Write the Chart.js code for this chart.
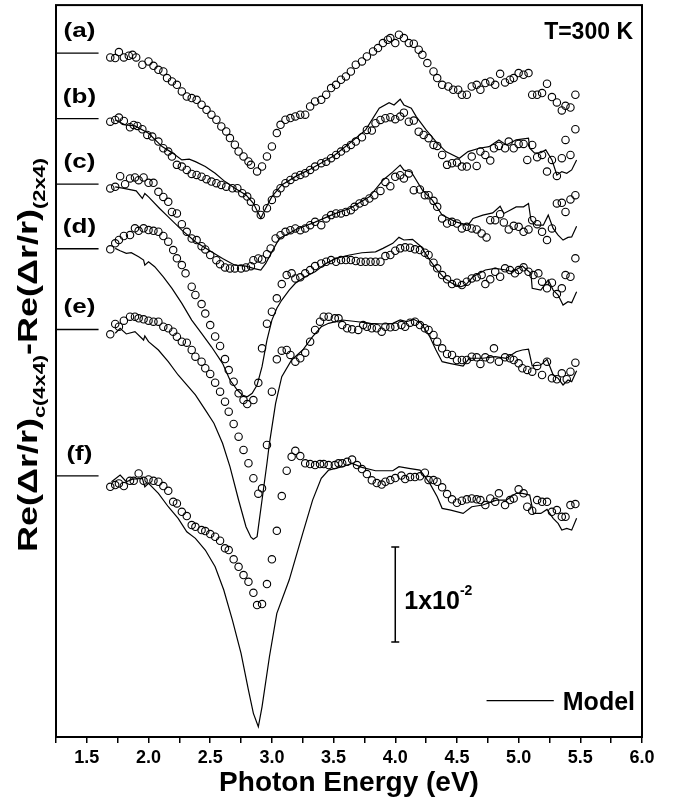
<!DOCTYPE html>
<html><head><meta charset="utf-8">
<script src="https://cdn.jsdelivr.net/npm/chart.js@4.4.0/dist/chart.umd.min.js"></script>
<style>html,body{margin:0;padding:0;background:#fff;}canvas{display:block;}</style>
</head><body>
<canvas id="c" width="674" height="802" style="width:674px;height:802px"></canvas>
<script>
// ---- DATA (values in units of 1e-3, relative to each curve's own zero line) ----
const curveNames = ['(a)','(b)','(c)','(d)','(e)','(f)'];
const offsets = [72.0, 65.1, 58.2, 51.4, 42.9, 27.5]; // vertical shift of each curve (1e-3 units)
const xTicks = [1.25,1.5,1.75,2.0,2.25,2.5,2.75,3.0,3.25,3.5,3.75,4.0,4.25,4.5,4.75,5.0,5.25,5.5,5.75,6.0];
const scaleBar = [10, 20]; // 1x10^-2 bar, at E = 4.0

const aE = [1.69,1.73,1.76,1.80,1.84,1.87,1.90,1.95,2.00,2.04,2.08,2.12,2.15,2.19,2.23,2.27,2.31,2.35,2.39,2.43,2.47,2.51,2.55,2.59,2.63,2.66,2.70,2.73,2.77,2.81,2.83,2.88,2.92,2.96,3.00,3.04,3.07,3.11,3.15,3.19,3.23,3.27,3.31,3.35,3.40,3.44,3.48,3.52,3.56,3.60,3.64,3.68,3.73,3.77,3.82,3.86,3.90,3.94,3.96,4.00,4.03,4.07,4.11,4.15,4.19,4.22,4.26,4.31,4.34,4.38,4.43,4.47,4.51,4.54,4.58,4.62,4.66,4.69,4.73,4.77,4.81,4.85,4.89,4.93,4.96,5.00,5.04,5.08,5.11,5.15,5.19,5.23,5.27,5.31,5.35,5.38,5.42,5.46];
const aV = [-0.46,-0.53,0.11,-0.46,-0.28,-0.18,-0.46,-1.23,-0.88,-1.34,-1.76,-1.94,-2.63,-2.99,-3.34,-4.04,-4.57,-4.74,-4.92,-5.44,-5.97,-6.49,-7.02,-7.73,-8.25,-8.95,-9.65,-10.36,-10.88,-11.41,-11.76,-12.46,-11.94,-10.88,-9.83,-8.42,-7.55,-7.02,-6.84,-6.67,-6.49,-6.49,-5.62,-5.09,-4.92,-4.39,-3.68,-3.34,-2.81,-2.46,-1.94,-1.23,-0.88,-0.36,0.17,0.53,1.05,1.40,1.58,1.05,1.93,1.58,1.05,0.98,0.35,-0.18,-1.05,-1.94,-2.63,-3.34,-3.52,-3.86,-3.86,-4.39,-4.39,-3.52,-3.34,-3.86,-3.16,-2.99,-3.34,-2.18,-3.09,-2.81,-2.63,-2.11,-2.28,-2.11,-4.39,-4.39,-4.21,-3.23,-4.63,-5.2,-6.04,-5.55,-5.73,-4.39];

const bE = [1.69,1.73,1.76,1.80,1.85,1.88,1.91,1.95,1.99,2.03,2.08,2.12,2.16,2.19,2.23,2.27,2.31,2.35,2.39,2.43,2.47,2.51,2.55,2.59,2.63,2.68,2.72,2.76,2.80,2.83,2.87,2.91,2.96,3.00,3.04,3.07,3.11,3.15,3.19,3.23,3.27,3.31,3.35,3.40,3.44,3.48,3.52,3.56,3.60,3.64,3.68,3.73,3.77,3.81,3.84,3.88,3.92,3.96,4.00,4.04,4.07,4.11,4.15,4.19,4.23,4.27,4.31,4.34,4.38,4.42,4.46,4.50,4.54,4.58,4.62,4.66,4.69,4.73,4.77,4.80,4.84,4.89,4.92,4.96,5.00,5.04,5.07,5.11,5.15,5.19,5.23,5.27,5.31,5.35,5.38,5.42,5.46];
const bV = [-0.32,-0.14,0.11,-0.24,-0.91,-0.66,-0.77,-1.12,-1.72,-1.89,-2.42,-3.12,-3.47,-4.0,-4.87,-5.05,-5.4,-5.82,-5.93,-6.11,-6.38,-6.63,-6.8,-6.98,-7.16,-7.33,-7.33,-7.85,-8.21,-8.74,-9.43,-10.14,-9.43,-8.56,-7.85,-7.33,-6.8,-6.45,-6.11,-5.93,-5.75,-5.4,-5.05,-4.69,-4.53,-4.17,-3.82,-3.47,-3.12,-2.77,-2.42,-1.96,-1.19,-1.26,-0.48,-0.14,0.04,0.15,-0.06,0.21,0.63,-0.32,-0.21,-1.37,-1.72,-2.06,-2.77,-2.87,-3.82,-4.87,-4.69,-4.63,-5.05,-5.05,-4.0,-4.98,-3.47,-3.82,-4.42,-3.12,-2.87,-3.12,-2.42,-3.12,-2.66,-2.66,-4.35,-2.77,-4.06,-3.82,-5.58,-4.35,-6.03,-4.17,-2.24,-3.82,-1.12];
const bModelE = [1.73,1.81,1.89,2.00,2.11,2.19,2.27,2.33,2.38,2.46,2.54,2.62,2.70,2.79,2.85,2.91,2.95,3.00,3.08,3.20,3.30,3.40,3.50,3.63,3.76,3.87,3.95,3.99,4.04,4.07,4.13,4.17,4.25,4.33,4.41,4.52,4.59,4.68,4.76,4.84,4.90,4.98,5.08,5.09,5.13,5.18,5.22,5.27,5.31,5.35,5.39,5.43,5.47];
const bModelV = [-0.14,-0.66,-0.77,-1.54,-2.95,-3.58,-4.35,-4.27,-4.53,-5.05,-5.75,-6.63,-7.33,-8.03,-8.91,-10.48,-9.43,-8.21,-6.98,-6.03,-5.4,-4.67,-3.93,-2.59,-1.19,1.09,1.68,1.44,2.04,1.44,1.09,0.21,-1.19,-2.42,-3.47,-4.17,-3.47,-3.12,-2.95,-2.24,-2.77,-2.24,-2.06,-3.12,-3.64,-3.58,-3.29,-4.35,-5.93,-5.58,-5.75,-5.4,-4.35];

const cE = [1.69,1.73,1.77,1.81,1.85,1.89,1.92,1.96,2.00,2.04,2.08,2.12,2.16,2.19,2.23,2.27,2.31,2.35,2.39,2.43,2.46,2.50,2.55,2.58,2.62,2.66,2.70,2.75,2.79,2.83,2.85,2.89,2.92,2.96,2.99,3.03,3.07,3.11,3.15,3.19,3.23,3.27,3.31,3.35,3.40,3.44,3.48,3.52,3.56,3.60,3.64,3.67,3.71,3.75,3.79,3.83,3.88,3.92,3.96,4.00,4.04,4.07,4.11,4.15,4.20,4.24,4.27,4.31,4.34,4.38,4.42,4.46,4.50,4.54,4.58,4.62,4.66,4.70,4.74,4.77,4.81,4.85,4.88,4.92,4.96,5.00,5.04,5.08,5.11,5.15,5.19,5.23,5.27,5.31,5.35,5.38,5.42,5.46];
const cV = [-0.45,-0.28,0.84,0,0.6,0.71,0.42,0.71,0.14,0.14,-0.81,-1.34,-1.86,-2.92,-3.08,-4.21,-5.02,-5.72,-5.89,-6.53,-6.87,-7.47,-8.0,-8.42,-8.77,-8.87,-8.87,-8.87,-8.77,-8.63,-8.0,-7.82,-7.93,-7.37,-6.77,-5.72,-5.37,-5.02,-4.84,-4.66,-4.84,-4.66,-4.32,-3.97,-4.32,-3.61,-3.26,-3.08,-3.08,-2.92,-2.74,-2.39,-2.03,-1.86,-1.51,-1.16,-0.71,0.24,-0.21,0.77,0.95,0.6,1.13,-0.63,-0.56,-1.16,-1.16,-1.76,-2.39,-3.61,-4.14,-3.97,-4.14,-4.66,-4.49,-4.66,-4.77,-5.19,-5.61,-3.79,-3.79,-3.16,-4.03,-4.77,-4.39,-4.49,-5.02,-4.77,-3.79,-4.21,-5.02,-5.89,-4.66,-2.03,-1.97,-2.92,-1.61,-1.16];
const cModelE = [1.73,1.79,1.83,1.90,1.95,1.97,2.00,2.09,2.16,2.27,2.38,2.49,2.60,2.70,2.79,2.85,2.91,2.95,3.00,3.06,3.20,3.35,3.50,3.63,3.79,3.90,3.98,4.04,4.07,4.13,4.22,4.30,4.38,4.49,4.59,4.63,4.71,4.79,4.85,4.88,4.93,4.98,5.04,5.08,5.10,5.14,5.20,5.24,5.28,5.32,5.36,5.40,5.43,5.47];
const cModelV = [-0.28,-0.42,-0.53,-0.71,-1.51,-0.98,-1.34,-2.56,-3.44,-4.84,-6.07,-6.95,-7.82,-8.53,-8.63,-8.87,-9.05,-8.35,-7.13,-5.72,-4.74,-4.0,-3.16,-2.56,-1.34,0.42,1.29,2.0,1.47,1.29,-0.63,-1.68,-3.26,-3.97,-4.32,-3.61,-3.26,-3.02,-2.32,-3.08,-2.74,-2.39,-2.39,-2.03,-3.79,-4.32,-4.32,-3.26,-4.66,-5.37,-5.89,-5.61,-5.55,-4.42];

const dE = [1.69,1.73,1.76,1.80,1.85,1.89,1.92,1.96,2.00,2.04,2.08,2.12,2.16,2.20,2.23,2.27,2.30,2.35,2.38,2.43,2.46,2.50,2.54,2.58,2.62,2.65,2.69,2.73,2.77,2.80,2.85,2.89,2.92,2.96,3.00,3.04,3.08,3.12,3.16,3.19,3.23,3.27,3.31,3.35,3.40,3.44,3.48,3.52,3.56,3.60,3.64,3.68,3.72,3.76,3.80,3.84,3.88,3.92,3.96,4.00,4.04,4.08,4.12,4.16,4.20,4.24,4.27,4.31,4.34,4.38,4.42,4.46,4.50,4.54,4.58,4.62,4.66,4.70,4.73,4.77,4.81,4.85,4.89,4.93,4.97,5.00,5.04,5.08,5.12,5.16,5.19,5.23,5.27,5.31,5.35,5.38,5.42,5.46];
const dV = [-0.06,0.57,0.92,1.34,1.44,2.15,1.89,2.15,1.97,1.89,1.79,1.34,0.74,-0.14,-1.01,-1.72,-2.59,-4.0,-4.87,-5.82,-6.82,-8.03,-9.24,-10.24,-11.61,-12.77,-14.0,-15.22,-15.93,-16.35,-15.93,-14.11,-10.48,-7.89,-6.63,-5.22,-3.72,-2.77,-2.59,-3.12,-3.01,-2.59,-2.24,-1.82,-1.54,-1.37,-1.19,-1.37,-1.19,-1.19,-1.19,-1.29,-1.37,-1.37,-1.37,-1.37,-1.37,-0.77,-0.66,-0.21,0.04,0.15,0.11,-0.06,-0.14,-0.42,-0.66,-1.47,-2.06,-2.77,-3.22,-3.72,-3.58,-3.82,-3.47,-3.12,-3.01,-2.77,-3.72,-3.22,-2.42,-2.95,-2.06,-2.24,-2.59,-2.24,-1.96,-2.42,-2.77,-2.59,-3.47,-4.17,-3.58,-4.77,-4.17,-2.77,-2.95,-1.01];
const dModelE = [1.73,1.77,1.82,1.86,1.92,1.96,1.97,2.00,2.05,2.12,2.19,2.27,2.35,2.43,2.51,2.60,2.66,2.72,2.76,2.80,2.84,2.88,2.92,2.96,3.00,3.04,3.08,3.14,3.19,3.27,3.35,3.44,3.52,3.63,3.73,3.84,3.90,3.98,4.03,4.07,4.14,4.21,4.28,4.34,4.40,4.46,4.53,4.57,4.63,4.73,4.81,4.90,4.95,5.03,5.10,5.11,5.18,5.24,5.28,5.32,5.36,5.40,5.43,5.47];
const dModelV = [0.04,-0.21,-0.48,-0.42,-0.84,-1.19,-1.72,-1.37,-1.89,-2.95,-4.17,-5.75,-7.51,-8.91,-10.32,-12.06,-13.82,-14.87,-15.4,-15.58,-15.22,-14.35,-12.42,-9.61,-7.51,-6.27,-5.4,-4.35,-3.64,-2.95,-2.42,-1.54,-1.01,-0.66,-0.42,-0.32,0.04,0.57,1.2,0.92,0.99,0.21,-1.19,-2.24,-3.12,-3.64,-4.0,-3.82,-2.95,-2.24,-2.06,-2.24,-2.42,-1.82,-2.59,-4.17,-4.35,-3.29,-4.35,-4.87,-5.93,-5.58,-5.68,-4.53];

const eE = [1.69,1.73,1.76,1.80,1.85,1.89,1.92,1.96,2.00,2.04,2.08,2.12,2.16,2.20,2.23,2.27,2.31,2.35,2.38,2.43,2.46,2.50,2.54,2.58,2.62,2.65,2.69,2.73,2.77,2.81,2.85,2.89,2.92,2.96,3.00,3.04,3.08,3.12,3.15,3.19,3.23,3.27,3.31,3.35,3.39,3.42,3.46,3.51,3.54,3.57,3.61,3.65,3.70,3.74,3.77,3.81,3.85,3.89,3.92,3.96,4.00,4.05,4.08,4.12,4.16,4.20,4.24,4.27,4.31,4.34,4.38,4.42,4.46,4.50,4.54,4.58,4.62,4.66,4.69,4.73,4.77,4.80,4.84,4.89,4.93,4.96,5.00,5.03,5.07,5.11,5.15,5.19,5.23,5.27,5.31,5.35,5.39,5.42,5.46];
const eV = [-0.51,0.58,0.29,0.93,1.35,1.35,1.18,1.07,0.93,0.82,0.82,0.29,0.13,-0.23,-0.76,-1.28,-1.39,-2.16,-2.86,-3.39,-4.08,-4.68,-5.6,-6.55,-7.6,-8.65,-9.95,-11.28,-12.68,-14.08,-15.66,-17.28,-16.72,-12.16,-6.55,-3.14,-2.23,-2.16,-2.68,-3.39,-3.03,-2.44,-1.28,-0.05,0.82,1.35,1.35,1.18,1.18,0.47,0.13,0.02,-0.05,0.47,0.29,0.13,0.13,-0.23,0.29,0.23,0.29,0.47,0.29,0.72,0.82,0.47,0.13,-0.05,-0.58,-1.28,-1.98,-2.58,-2.68,-3.21,-3.21,-3.21,-2.86,-2.93,-3.63,-2.93,-3.14,-1.98,-3.39,-2.93,-3.03,-3.21,-3.56,-4.08,-4.26,-4.44,-3.84,-4.79,-3.39,-5.14,-5.24,-4.61,-5.24,-4.44,-3.49];
const eModelE = [1.73,1.77,1.82,1.89,1.96,1.97,2.00,2.08,2.16,2.24,2.31,2.38,2.46,2.53,2.60,2.66,2.73,2.79,2.83,2.85,2.88,2.92,2.96,2.98,3.03,3.08,3.16,3.25,3.33,3.40,3.46,3.57,3.68,3.80,3.90,3.98,4.04,4.09,4.15,4.21,4.28,4.33,4.38,4.44,4.55,4.60,4.71,4.81,4.90,4.98,5.03,5.08,5.11,5.18,5.23,5.28,5.32,5.36,5.40,5.43,5.47];
const eModelV = [-0.4,0.13,-0.47,-0.23,-1.11,-0.68,-1.28,-2.16,-3.39,-4.79,-5.84,-6.89,-8.47,-9.87,-11.98,-14.44,-17.95,-20.76,-21.87,-22.08,-21.81,-17.95,-14.08,-11.98,-7.77,-4.97,-3.21,-2.16,-0.76,0.29,0.65,1.0,0.84,0.65,0.58,0.65,1.0,0.82,1.07,0.65,-0.76,-2.16,-3.39,-3.56,-3.84,-3.03,-3.03,-2.86,-3.03,-2.34,-2.16,-2.08,-3.84,-3.74,-3.14,-4.79,-5.14,-5.84,-5.32,-5.49,-4.34];

const fE = [1.69,1.73,1.76,1.80,1.85,1.88,1.92,1.96,2.00,2.04,2.08,2.12,2.16,2.20,2.23,2.27,2.31,2.35,2.38,2.43,2.46,2.50,2.54,2.58,2.62,2.65,2.69,2.73,2.77,2.81,2.85,2.88,2.92,2.96,3.00,3.04,3.08,3.12,3.16,3.19,3.23,3.27,3.31,3.35,3.39,3.42,3.46,3.51,3.54,3.57,3.61,3.65,3.69,3.73,3.77,3.81,3.85,3.89,3.92,3.96,4.00,4.05,4.08,4.12,4.16,4.20,4.24,4.27,4.31,4.34,4.38,4.42,4.46,4.50,4.54,4.58,4.62,4.66,4.69,4.73,4.77,4.81,4.84,4.89,4.93,4.96,5.00,5.04,5.07,5.11,5.15,5.19,5.23,5.27,5.31,5.35,5.38,5.42,5.46];
const fV = [-1.16,-0.98,-0.8,-1.08,-0.53,-0.53,0.25,-0.53,-0.38,-0.53,-0.63,-1.08,-1.58,-2.74,-2.91,-3.79,-4.24,-5.19,-5.37,-5.72,-5.82,-6.14,-6.42,-6.84,-7.64,-7.82,-8.8,-9.58,-10.45,-11.16,-12.32,-13.61,-13.51,-11.4,-8.8,-5.79,-2.14,0.53,2.0,2.63,2.07,1.31,1.23,1.13,1.23,1.23,1.13,1.13,1.31,1.31,1.47,1.71,1.13,0.71,0.18,-0.48,-0.77,-0.93,-0.63,-0.45,-0.24,0.02,-0.35,-0.14,-0.14,-0.06,0.32,-0.45,-0.45,-0.63,-1.22,-1.93,-2.48,-2.84,-2.63,-2.48,-2.38,-2.48,-2.56,-3.08,-2.38,-2.74,-1.85,-3.08,-2.56,-2.38,-1.43,-1.85,-3.26,-3.68,-2.56,-2.74,-2.74,-3.79,-3.61,-4.32,-4.32,-3.08,-2.98];
const fModelE = [1.70,1.77,1.82,1.87,1.95,1.97,2.00,2.08,2.16,2.24,2.31,2.38,2.46,2.54,2.61,2.68,2.75,2.81,2.85,2.89,2.92,2.98,3.04,3.14,3.25,3.33,3.40,3.46,3.57,3.65,3.73,3.84,3.98,4.03,4.11,4.20,4.28,4.34,4.38,4.45,4.55,4.62,4.71,4.82,4.90,4.98,5.03,5.09,5.12,5.18,5.23,5.28,5.32,5.35,5.39,5.43,5.47];
const fModelV = [-0.63,0.07,-0.63,-0.35,-0.27,-1.16,-0.8,-1.85,-3.26,-4.48,-5.89,-6.59,-7.82,-9.58,-12.03,-15.19,-18.69,-22.56,-25.01,-26.42,-24.32,-19.05,-14.48,-10.98,-6.06,-2.56,-0.27,0.6,0.95,1.31,0.88,0.53,0.53,0.95,0.78,0.6,-0.8,-2.21,-3.43,-3.61,-3.96,-3.26,-3.08,-2.56,-2.56,-1.85,-1.85,-2.03,-3.96,-3.96,-3.54,-4.48,-5.01,-5.72,-5.54,-5.72,-4.48];

// ---- BUILD ----
const FONT = '"Liberation Sans", Arial, Helvetica, sans-serif';
const measured = [[aE,aV],[bE,bV],[cE,cV],[dE,dV],[eE,eV],[fE,fV]];
const modelled = [null,[bModelE,bModelV],[cModelE,cModelV],[dModelE,dModelV],[eModelE,eModelV],[fModelE,fModelV]];

function pts(E, V, off) {
  const n = Math.min(E.length, V.length), out = [];
  for (let k = 0; k < n; k++) out.push({x: E[k], y: off + V[k]});
  return out;
}
const datasets = [];
modelled.forEach((m, i) => {
  if (!m) return;
  datasets.push({ data: pts(m[0], m[1], offsets[i]), showLine: true, borderColor: '#000',
    borderWidth: 1.2, pointRadius: 0, tension: 0, fill: false });
});
measured.forEach((s, i) => {
  datasets.push({ data: pts(s[0], s[1], offsets[i]), showLine: false, pointStyle: 'circle',
    pointRadius: 3.7, pointBorderWidth: 1.1, pointBorderColor: '#000',
    pointBackgroundColor: 'rgba(0,0,0,0)' });
});

function stretchedText(ctx, txt, x, y, sx, align) {
  const w = ctx.measureText(txt).width * sx;
  let x0 = x;
  if (align === 'center') x0 = x - w / 2; else if (align === 'right') x0 = x - w;
  ctx.save(); ctx.translate(x0, y); ctx.scale(sx, 1); ctx.textAlign = 'left';
  ctx.fillText(txt, 0, 0); ctx.restore();
}

const overlay = {
  id: 'overlay',
  afterDraw(chart) {
    const {ctx, chartArea: a, scales: {x, y}} = chart;
    ctx.save();
    ctx.strokeStyle = '#000'; ctx.fillStyle = '#000';
    ctx.lineWidth = 2;
    ctx.strokeRect(a.left, a.top, a.right - a.left, a.bottom - a.top);

    // zero lines and curve labels
    ctx.lineWidth = 1.3;
    ctx.textBaseline = 'alphabetic';
    offsets.forEach((o, i) => {
      const py = y.getPixelForValue(o);
      ctx.beginPath(); ctx.moveTo(a.left, py); ctx.lineTo(x.getPixelForValue(1.595), py); ctx.stroke();
      ctx.font = 'bold 20px ' + FONT;
      stretchedText(ctx, curveNames[i], x.getPixelForValue(1.44), py - 16, 1.3, 'center');
    });

    // T=300 K
    ctx.font = 'bold 23px ' + FONT;
    ctx.textAlign = 'right';
    ctx.fillText('T=300 K', x.getPixelForValue(5.927), y.getPixelForValue(73.47));

    // scale bar
    const bx = x.getPixelForValue(4.0);
    const y1 = y.getPixelForValue(scaleBar[0]), y2 = y.getPixelForValue(scaleBar[1]);
    ctx.lineWidth = 1.5;
    ctx.beginPath();
    ctx.moveTo(bx, y1); ctx.lineTo(bx, y2);
    ctx.moveTo(bx - 4, y1); ctx.lineTo(bx + 4, y1);
    ctx.moveTo(bx - 4, y2); ctx.lineTo(bx + 4, y2);
    ctx.stroke();
    ctx.textAlign = 'left';
    ctx.font = 'bold 25px ' + FONT;
    const tx = x.getPixelForValue(4.073), ty = y.getPixelForValue(13.47);
    ctx.fillText('1x10', tx, ty);
    const w = ctx.measureText('1x10').width;
    ctx.font = 'bold 14px ' + FONT;
    ctx.fillText('-2', tx + w, ty - 14);

    // Model legend
    ctx.lineWidth = 1.2;
    const ly = y.getPixelForValue(3.82);
    ctx.beginPath(); ctx.moveTo(x.getPixelForValue(4.74), ly); ctx.lineTo(x.getPixelForValue(5.285), ly); ctx.stroke();
    ctx.font = 'bold 25px ' + FONT;
    ctx.fillText('Model', x.getPixelForValue(5.358), y.getPixelForValue(2.84));

    // Y axis title (rotated, with subscripts)
    const parts = [
      {t: 'Re(\u0394r/r)', f: 28, dy: 0},
      {t: 'c(4x4)', f: 17, dy: 8},
      {t: '-Re(\u0394r/r)', f: 28, dy: 0},
      {t: '(2x4)', f: 17, dy: 8}
    ];
    let total = 0;
    parts.forEach(p => { ctx.font = 'bold ' + p.f + 'px ' + FONT; p.w = ctx.measureText(p.t).width; total += p.w; });
    const s = 394 / total;
    ctx.translate(36.7, 552);
    ctx.rotate(-Math.PI / 2);
    ctx.scale(s, 1);
    let cx = 0;
    parts.forEach(p => { ctx.font = 'bold ' + p.f + 'px ' + FONT; ctx.fillText(p.t, cx, p.dy); cx += p.w; });
    ctx.restore();
  }
};

new Chart(document.getElementById('c'), {
  type: 'scatter',
  data: { datasets },
  plugins: [overlay],
  options: {
    responsive: false, animation: false, devicePixelRatio: 1,
    layout: { padding: { top: 5, right: 32, left: 0, bottom: 0 } },
    plugins: { legend: { display: false }, tooltip: { enabled: false } },
    scales: {
      x: {
        type: 'linear', min: 1.25, max: 6.0,
        afterBuildTicks: sc => { sc.ticks = xTicks.map(v => ({value: v})); },
        ticks: { autoSkip: false, maxRotation: 0, color: '#000', padding: 4,
          font: { family: FONT, size: 18, weight: 'bold' },
          callback: v => (Math.round(v * 4) % 2 === 0 ? Number(v).toFixed(1) : '') },
        grid: { display: true, drawOnChartArea: false, drawTicks: true, tickLength: 6, color: '#000', lineWidth: 1.5 },
        border: { display: false },
        title: { display: true, text: 'Photon Energy (eV)', color: '#000',
          font: { family: FONT, size: 28, weight: 'bold' }, padding: { top: 0, bottom: 2 } },
        afterFit: sc => { sc.height = 65; }
      },
      y: {
        type: 'linear', min: 0, max: 77.05,
        ticks: { display: false }, grid: { display: false }, border: { display: false },
        afterFit: sc => { sc.width = 56; }
      }
    }
  }
});
</script>
</body></html>
